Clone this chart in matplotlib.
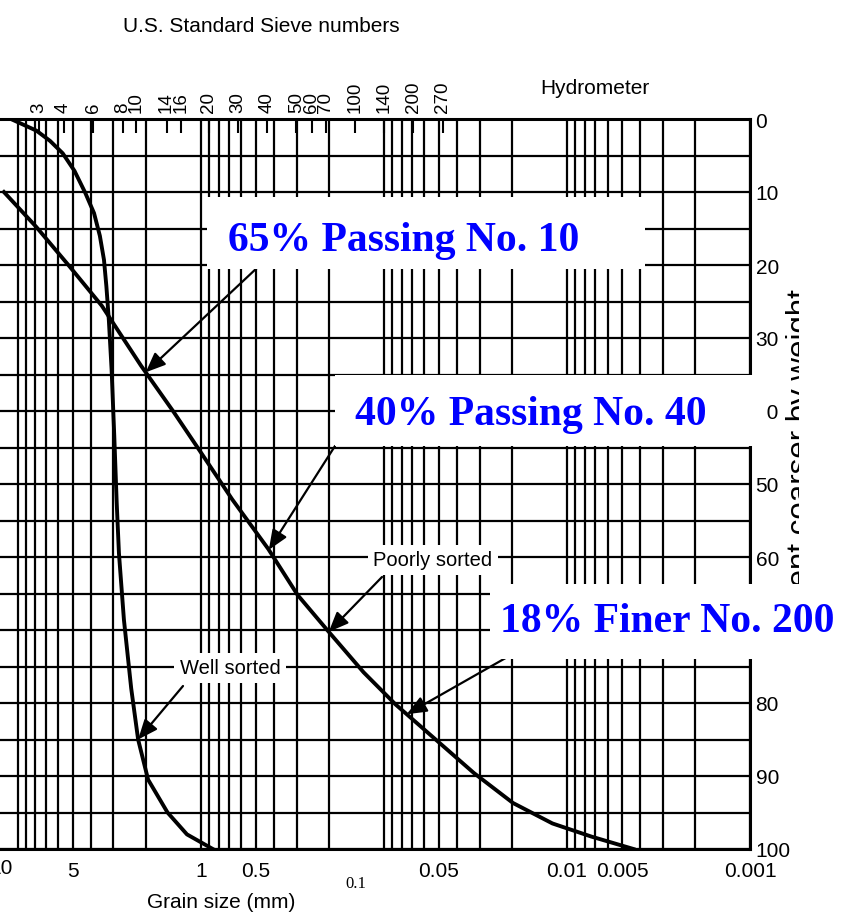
import numpy as np
import matplotlib
matplotlib.use("Agg")
import matplotlib.pyplot as plt
from matplotlib.patches import Rectangle
from matplotlib.ticker import FixedLocator, FixedFormatter, NullFormatter, NullLocator

# grain size (mm) vs percent coarser by weight
well_mm = [10.9, 7.9, 6.66, 5.68, 4.9, 4.28, 3.83, 3.56, 3.38, 3.28, 3.18, 3.07,
           2.97, 2.88, 2.80, 2.63, 2.40, 2.20, 1.94, 1.52, 1.19, 0.86]
well_pct = [0, 1.6, 3, 4.7, 7.1, 10.1, 12.9, 16, 19.3, 22.9, 27.5, 34.4,
            43.4, 52.6, 59.5, 68.6, 78, 85, 90.5, 95, 98, 100]

poor_mm = [11.9, 7.91, 5.21, 3.47, 2.12, 1.41, 1.01, 0.674, 0.428, 0.296, 0.204,
           0.129, 0.0863, 0.0527, 0.0322, 0.0197, 0.0120, 0.00735, 0.00433]
poor_pct = [10, 14.8, 20.2, 25.6, 33.8, 40.1, 45.5, 52.1, 58.9, 65.2, 70.0,
            75.8, 80.2, 84.9, 89.6, 93.7, 96.5, 98.3, 100]

sieve_no = ['3', '4', '6', '8', '10', '14', '16', '20', '30', '40', '50', '60',
            '70', '100', '140', '200', '270']
sieve_mm = [6.35, 4.75, 3.35, 2.36, 2.0, 1.4, 1.18, 0.85, 0.6, 0.425, 0.3, 0.25,
            0.212, 0.15, 0.106, 0.075, 0.053]

size_ticks = [10, 5, 1, 0.5, 0.1, 0.05, 0.01, 0.005, 0.001]
size_labels = ['', '5', '1', '0.5', '', '0.05', '0.01', '0.005', '0.001']
pct_ticks = list(range(0, 101, 10))
pct_labels = ['0', '10', '20', '30', '40', '50', '60', '', '80', '90', '100']

SANS = ['Liberation Sans', 'DejaVu Sans']
SERIF = ['Liberation Serif', 'DejaVu Serif']
BLUE = '#0000ff'

plt.rcParams['font.family'] = SANS

W, H = 845, 920


def px(x, y):
    # pixel position (from top-left) -> figure fraction
    return x / W, 1 - y / H


def curve_pct(mm, xs, ys):
    return float(np.interp(np.log10(mm), np.log10(xs[::-1]), ys[::-1]))


fig = plt.figure(figsize=(W / 100, H / 100), dpi=100)
ax = fig.add_axes([0, 1 - 850 / H, 750 / W, 730 / H])
ax.set_xscale('log')
ax.set_xlim(12.5, 0.001)
ax.set_ylim(100, 0)

# log grid (1..9 per decade) and a line every 5 %
grid_mm = (np.arange(1, 10)[:, None] * 10.0 ** np.arange(-3, 2)).ravel()
ax.xaxis.set_major_locator(FixedLocator(size_ticks))
ax.xaxis.set_major_formatter(FixedFormatter(size_labels))
ax.xaxis.set_minor_locator(FixedLocator(grid_mm))
ax.xaxis.set_minor_formatter(NullFormatter())
ax.set_yticks(pct_ticks, pct_labels)
ax.set_yticks(range(5, 100, 10), minor=True)
ax.yaxis.tick_right()
ax.grid(which='both', color='black', lw=1.6)
ax.tick_params(which='both', length=0)
ax.tick_params(axis='x', pad=9, labelsize=15)
ax.tick_params(axis='y', pad=4, labelsize=15)
ax.spines['left'].set_visible(False)
for s in ('top', 'right', 'bottom'):
    ax.spines[s].set_linewidth(2.2)

ax.plot(well_mm, well_pct, color='black', lw=2.8, zorder=3)
ax.plot(poor_mm, poor_pct, color='black', lw=2.8, zorder=3)

# sieve numbers along the top (the printed sieve scale is slightly wider than the grid)
ax2 = ax.twiny()
ax2.set_xscale('log')
ax2.set_xlim(10.1, 0.00138)
ax2.xaxis.set_major_locator(FixedLocator(sieve_mm))
ax2.xaxis.set_major_formatter(FixedFormatter(sieve_no))
ax2.xaxis.set_minor_locator(NullLocator())
ax2.tick_params(axis='x', direction='in', length=10, width=1.5, pad=5, labelsize=13.5,
                labelrotation=90)
for s in ax2.spines.values():
    s.set_visible(False)

# the "10" half cut at the left edge, and the odd serif "0.1" off its grid line
ax.annotate('10', xy=(10, 0), xycoords=('data', 'axes fraction'),
            xytext=(-12, -6.5), textcoords='offset points', ha='center', va='top',
            fontsize=15, annotation_clip=False)
ax.annotate('0.1', xy=(0.1, 0), xycoords=('data', 'axes fraction'),
            xytext=(-20, -19), textcoords='offset points', ha='center', va='top',
            family=SERIF, fontsize=12)

fig.text(*px(261, 27), 'U.S. Standard Sieve numbers', ha='center', va='center', fontsize=15)
fig.text(*px(595, 88), 'Hydrometer', ha='center', va='center', fontsize=15)
fig.text(*px(221, 903), 'Grain size (mm)', ha='center', va='center', fontsize=15)

# y label: mostly cut away at the right edge of the scanned chart
ylab = fig.text(*px(801, 470), 'Percent coarser by weight', rotation=90,
                ha='center', va='center', fontsize=22.5)
clip = Rectangle((0, 0), 799 / W, 1, transform=fig.transFigure, visible=False)
fig.add_artist(clip)
ylab.set_clip_path(clip)

# curve labels sitting on grid lines
box = dict(fc='white', ec='none', pad=4)
ax.text(*px(433, 561), 'Poorly sorted', transform=fig.transFigure, ha='center',
        va='center', fontsize=14.5, bbox=box, zorder=4)
ax.text(*px(230, 669), 'Well sorted', transform=fig.transFigure, ha='center',
        va='center', fontsize=14.5, bbox=box, zorder=4)

arrow = dict(arrowstyle='-|>,head_length=0.6,head_width=0.25', color='black',
             lw=1.6, mutation_scale=20, shrinkA=0, shrinkB=0)

ax.annotate('', xy=(0.2, curve_pct(0.2, poor_mm, poor_pct)), xytext=px(382, 578),
            textcoords='figure fraction', arrowprops=arrow, annotation_clip=False, zorder=5)
ax.annotate('', xy=(2.2, curve_pct(2.2, well_mm, well_pct)), xytext=px(183, 687),
            textcoords='figure fraction', arrowprops=arrow, annotation_clip=False, zorder=5)

# blue call-outs on white boxes
callouts = [
    ('65% Passing No. 10', (207, 198, 645, 270), (228, 251), 2.0, px(258, 268)),
    ('40% Passing No. 40', (335, 376, 767, 447), (355, 425), 0.425, px(335, 447)),
    ('18% Finer No. 200', (490, 585, 845, 660), (500, 632), 0.075, px(525, 648)),
]
for text, (x0, y0, x1, y1), (tx, ty), mm, tail in callouts:
    fig.add_artist(Rectangle(px(x0, y1), (x1 - x0) / W, (y1 - y0) / H,
                             transform=fig.transFigure, fc='white', ec='none', zorder=10))
    fig.text(*px(tx, ty), text, ha='left', va='baseline', color=BLUE, fontsize=30,
             fontweight='bold', family=SERIF, zorder=11)
    ax.annotate('', xy=(mm, curve_pct(mm, poor_mm, poor_pct)), xytext=tail,
                textcoords='figure fraction', arrowprops=arrow, annotation_clip=False,
                zorder=5)

fig.savefig('out.png', dpi=100)
